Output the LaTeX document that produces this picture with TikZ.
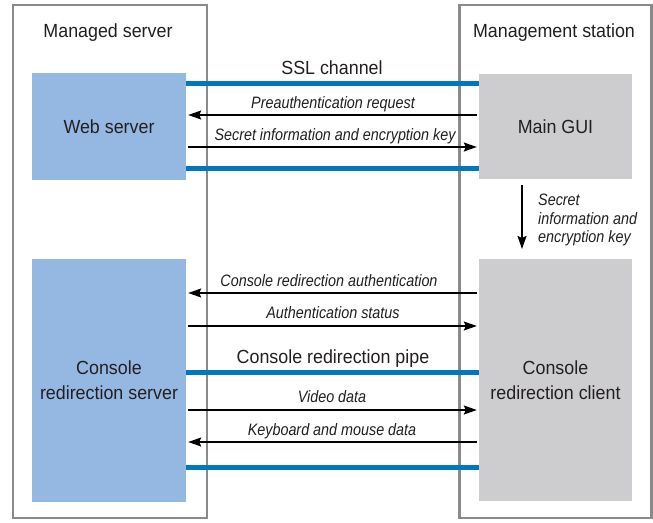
\documentclass[tikz,border=0pt]{standalone}
\usepackage{fontspec}
\setmainfont{Liberation Sans}[FakeStretch=0.94]
\newfontfamily\lblfont{Liberation Sans}[FakeStretch=0.87]
\usetikzlibrary{arrows.meta}
\definecolor{srvblue}{HTML}{95B8E3}
\definecolor{guigray}{HTML}{CDCDCF}
\definecolor{pipeblue}{HTML}{0077C0}
\definecolor{framegray}{HTML}{8A8A8C}
\definecolor{txt}{HTML}{231F20}
\begin{document}
\begin{tikzpicture}[x=1pt,y=-1pt,
  frame/.style={draw=framegray,line width=2.2pt,fill=white,inner sep=0pt},
  srvbox/.style={fill=srvblue,inner sep=0pt,text=txt,align=center,font=\fontsize{19}{25}\selectfont},
  guibox/.style={fill=guigray,inner sep=0pt,text=txt,align=center,font=\fontsize{19}{25}\selectfont},
  pipe/.style={draw=pipeblue,line width=5pt},
  msg/.style={draw=black,line width=1.6pt,-{Stealth[length=13pt,width=9pt,inset=2pt]}},
  msglabel/.style={anchor=base,inner sep=0pt,text=txt,font=\lblfont\itshape\fontsize{16.5}{18.5}\selectfont},
  title/.style={anchor=base,inner sep=0pt,text=txt,font=\fontsize{19}{25}\selectfont}
]
\useasboundingbox (0,0) rectangle (653,522);
\fill[white] (0,0) rectangle (653,522);
% outer frames
\node[frame,minimum width=194pt,minimum height=513pt] (left) at (110,261.5) {};
\node[frame,minimum width=192pt,minimum height=513pt] (right) at (555.5,261.5) {};
\node[title] (lt) at (108,37) {Managed server};
\node[title] (rt) at (554,37) {Management station};
% boxes
\node[srvbox,minimum width=154pt,minimum height=107pt] (web) at (109,126.5) {Web server};
\node[guibox,minimum width=153pt,minimum height=105pt] (gui) at (555.5,126.5) {Main GUI};
\node[srvbox,minimum width=154pt,minimum height=243pt] (crs) at (109,380.5) {Console\\redirection server};
\node[guibox,minimum width=153pt,minimum height=242pt] (crc) at (555.5,380) {Console\\redirection client};
% SSL channel
\draw[pipe] (web.east |- 0,83) -- (gui.west |- 0,83);
\draw[pipe] (web.east |- 0,168) -- (gui.west |- 0,168);
\node[title] (ssl) at (332,74) {SSL channel};
\draw[msg,shorten >=2pt,shorten <=2pt] (gui.west |- 0,115) -- (web.east |- 0,115);
\node[msglabel] (l1) at (333,108) {Preauthentication request};
\draw[msg,shorten >=2pt,shorten <=2pt] (web.east |- 0,147) -- (gui.west |- 0,147);
\node[msglabel] (l2) at (335,140) {Secret information and encryption key};
% vertical
\coordinate (vtop) at (522,185);
\coordinate (vbot) at (522,249);
\draw[msg] (vtop) -- (vbot);
\node[msglabel,anchor=north west,align=left] (l3) at (538,194) {Secret\\information and\\encryption key};
% console redirection
\draw[msg,shorten >=2pt,shorten <=2pt] (crc.west |- 0,293) -- (crs.east |- 0,293);
\node[msglabel] (l4) at (329,286) {Console redirection authentication};
\draw[msg,shorten >=2pt,shorten <=2pt] (crs.east |- 0,326) -- (crc.west |- 0,326);
\node[msglabel] (l5) at (333,318) {Authentication status};
\draw[pipe] (crs.east |- 0,372) -- (crc.west |- 0,372);
\node[title] (pl) at (333,363) {Console redirection pipe};
\draw[msg,shorten >=2pt,shorten <=2pt] (crs.east |- 0,410) -- (crc.west |- 0,410);
\node[msglabel] (l6) at (332,402) {Video data};
\draw[msg,shorten >=2pt,shorten <=2pt] (crc.west |- 0,442) -- (crs.east |- 0,442);
\node[msglabel] (l7) at (332,435) {Keyboard and mouse data};
\draw[pipe] (crs.east |- 0,467) -- (crc.west |- 0,467);
\end{tikzpicture}
\end{document}
